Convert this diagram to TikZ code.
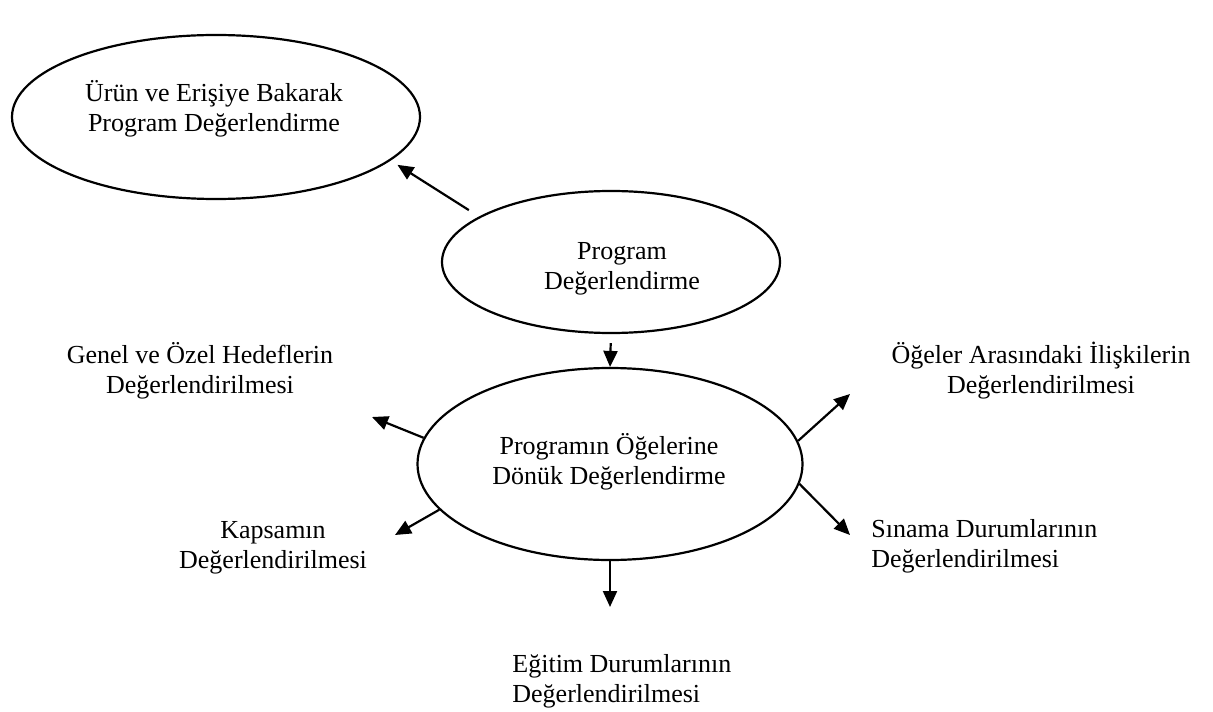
\documentclass[tikz,border=0pt]{standalone}
\usepackage{fontspec}
\setmainfont{Liberation Serif}
\usepackage{tikz}
\usetikzlibrary{shapes.geometric, arrows.meta, positioning}
\tikzstyle{oval} = [ellipse, draw=black, line width=1.1pt, inner sep=0pt]
\tikzstyle{lbl} = [align=center, anchor=base, inner sep=0pt]
\tikzstyle{lblleft} = [align=left, anchor=base west, inner sep=0pt]
\tikzstyle{arrow} = [line width=1.1pt, -{Triangle[length=8pt, width=7pt]}]

\begin{document}
\begin{tikzpicture}[x=0.5pt, y=-0.5pt, font=\fontsize{13}{15}\selectfont]
    \useasboundingbox (0,0) rectangle (1213,711);

    % Ellipses
    \node (urun) [oval, minimum width=204pt, minimum height=82pt] at (216,117) {};
    \node (prog) [oval, minimum width=169pt, minimum height=71pt] at (611,262) {};
    \node (elem) [oval, minimum width=192.5pt, minimum height=96pt] at (610,464) {};

    % Texts (anchored at the baseline of the last line)
    \node (urunT) [lbl] at (214,132) {Ürün ve Erişiye Bakarak\\Program Değerlendirme};
    \node (progT) [lbl] at (622,289) {Program\\Değerlendirme};
    \node (elemT) [lbl] at (609,484) {Programın Öğelerine\\Dönük Değerlendirme};
    \node (genel) [lbl] at (200,393) {Genel ve Özel Hedeflerin\\Değerlendirilmesi};
    \node (kapsam) [lbl] at (273,568) {Kapsamın\\Değerlendirilmesi};
    \node (ogeler) [lbl] at (1041,393) {Öğeler Arasındaki İlişkilerin\\Değerlendirilmesi};
    \node (sinama) [lblleft] at (871,567) {Sınama Durumlarının\\Değerlendirilmesi};
    \node (egitim) [lblleft] at (512,702) {Eğitim Durumlarının\\Değerlendirilmesi};

    % Arrow ends
    \coordinate (genelTip) at (372,417);
    \coordinate (kapsamTip) at (395,535);
    \coordinate (ogelerTip) at (850,394);
    \coordinate (sinamaTip) at (850,535);
    \coordinate (egitimTip) at (610,607);

    % Arrows
    \draw [arrow, shorten <=6pt, shorten >=4pt] (prog.161.7) -- (urun.-14.35);
    \draw [arrow, shorten <=4.5pt] (prog.south) -- (elem.north);

    \draw [arrow] (elem.172.9) -- (genelTip);
    \draw [arrow] (elem.195.9) -- (kapsamTip);
    \draw [arrow] (elem.7.1) -- (ogelerTip);
    \draw [arrow] (elem.-6.8) -- (sinamaTip);
    \draw [arrow] (elem.south) -- (egitimTip);
\end{tikzpicture}
\end{document}
